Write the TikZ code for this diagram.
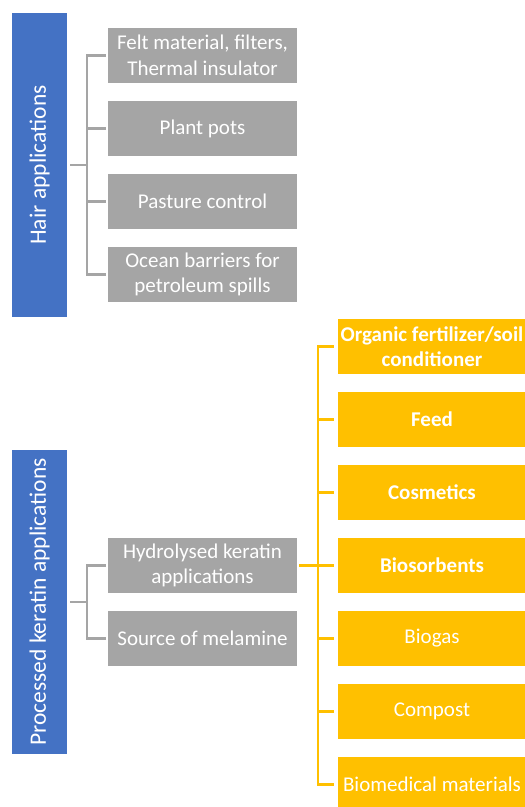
\documentclass[tikz,border=0pt]{standalone}
\usepackage{fontspec}
\setmainfont{Carlito}
\definecolor{groupblue}{HTML}{4472C4}
\definecolor{itemgray}{HTML}{A5A5A5}
\definecolor{useorange}{HTML}{FFC000}
\tikzset{
	groupbox/.style={fill=groupblue, text=white, rotate=90, inner sep=0pt,
		minimum width=304pt, minimum height=55pt, font=\fontsize{23.5}{28}\selectfont},
	itembox/.style={fill=itemgray, text=white, align=center, inner sep=0pt,
		minimum width=189pt, minimum height=55pt, font=\fontsize{21}{25.6}\selectfont},
	usebox/.style={fill=useorange, text=white, align=center, inner sep=0pt,
		minimum width=188pt, minimum height=55pt, font=\fontsize{21}{25.6}\selectfont},
	graylink/.style={draw=itemgray, line width=2.5pt},
	orangelink/.style={draw=useorange, line width=2.5pt}
}
\begin{document}
\begin{tikzpicture}[x=1pt, y=-1pt, line join=miter]
	%% khung
	\path[use as bounding box, clip] (0,0) rectangle (525,807);
	%% Khai bao diem
	\path 
	(39.5,165) coordinate (H)
	(39.5,602) coordinate (K)
	(87,165) coordinate (Hj)
	(87,602) coordinate (Kj)
	(318,565.5) coordinate (Uj)
	;
	%% hop xanh
	\node[groupbox] (hair) at (H) {Hair applications};
	\node[groupbox] (kerat) at (K) {Processed keratin applications};
	%% hop xam
	\node[itembox] (felt) at (202.5,55.5) {Felt material, filters,\\Thermal insulator};
	\node[itembox] (pots) at (202.5,128.5) {Plant pots};
	\node[itembox] (pasture) at (202.5,201.5) {Pasture control};
	\node[itembox] (ocean) at (202.5,274.5) {Ocean barriers for\\petroleum spills};
	\node[itembox] (hydro) at (202.5,565.5) {Hydrolysed keratin\\applications};
	\node[itembox] (melamine) at (202.5,638.5) {Source of melamine};
	%% hop cam
	\node[usebox, font=\fontsize{21}{25.6}\selectfont\bfseries] (organic) at (432,346.5) {Organic fertilizer/soil\\conditioner};
	\node[usebox, font=\fontsize{21}{25.6}\selectfont\bfseries] (feed) at (432,419.5) {Feed};
	\node[usebox, font=\fontsize{21}{25.6}\selectfont\bfseries] (cosmetics) at (432,492.5) {Cosmetics};
	\node[usebox, font=\fontsize{21}{25.6}\selectfont\bfseries] (biosorb) at (432,565.5) {Biosorbents};
	\node[usebox] (biogas) at (432,638.5) {Biogas};
	\node[usebox] (compost) at (432,711.5) {Compost};
	\node[usebox] (biomed) at (432,784.5) {Biomedical materials};
	%% ve duong noi
	\draw[graylink] ([xshift=3pt]hair.south) -- (Hj);
	\foreach \x in {felt,pots,pasture,ocean}
	\draw[graylink] (Hj) |- ([xshift=-2pt]\x.west);
	\draw[graylink] ([xshift=3pt]kerat.south) -- (Kj);
	\foreach \x in {hydro,melamine}
	\draw[graylink] (Kj) |- ([xshift=-2pt]\x.west);
	\draw[orangelink] ([xshift=2pt]hydro.east) -- (Uj);
	\foreach \x in {organic,feed,cosmetics,biosorb,biogas,compost,biomed}
	\draw[orangelink] (Uj) |- ([xshift=-4pt]\x.west);
\end{tikzpicture}
\end{document}
